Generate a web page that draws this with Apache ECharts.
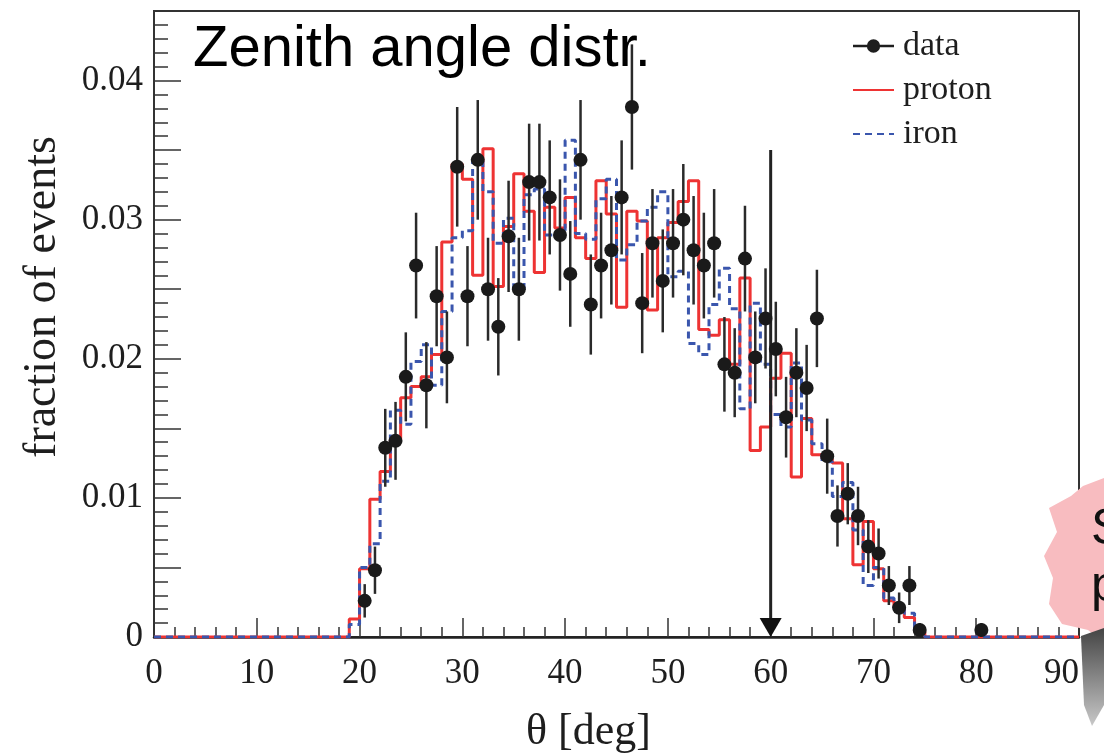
<!DOCTYPE html>
<html>
<head>
<meta charset="utf-8">
<script src="https://cdn.jsdelivr.net/npm/echarts@6/dist/echarts.min.js"></script>
<style>
html,body{margin:0;padding:0;background:#fff;}
#chart{width:1104px;height:755px;}
</style>
</head>
<body>
<div id="chart"></div>
<script>
// ---- data ----
const titleText = 'Zenith angle distr.';
const xName = 'θ [deg]';
const yName = 'fraction of events';
const xMin = 0, xMax = 90, xStep = 10;
const yMin = 0, yMax = 0.045, yStep = 0.005;

// histogram bins are 1 degree wide, first non-empty bin starts at 19 deg
const binStart = 19;
const protonValues = [
  0.0013, 0.0049, 0.0099, 0.0119, 0.0142, 0.0172, 0.0180, 0.0187, 0.0203, 0.0284,
  0.0340, 0.0329, 0.0260, 0.0351, 0.0252, 0.0295, 0.0333, 0.0306, 0.0262, 0.0309,
  0.0294, 0.0316, 0.0287, 0.0272, 0.0328, 0.0304, 0.0237, 0.0306, 0.0299, 0.0235,
  0.0287, 0.0298, 0.0313, 0.0328, 0.0221, 0.0217, 0.0228, 0.0196, 0.0258, 0.0134,
  0.0151, 0.0186, 0.0204, 0.0115, 0.0157, 0.0131, 0.0128, 0.0125, 0.0085, 0.0052,
  0.0083, 0.0049, 0.0026, 0.0021, 0.0014, 0.0004
];
const ironValues = [
  0.0009, 0.0050, 0.0067, 0.0112, 0.0163, 0.0153, 0.0198, 0.0210, 0.0181, 0.0234,
  0.0287, 0.0292, 0.0342, 0.0320, 0.0283, 0.0301, 0.0247, 0.0318, 0.0322, 0.0289,
  0.0289, 0.0357, 0.0290, 0.0286, 0.0315, 0.0329, 0.0271, 0.0282, 0.0299, 0.0309,
  0.0320, 0.0259, 0.0263, 0.0211, 0.0203, 0.0239, 0.0265, 0.0236, 0.0164, 0.0240,
  0.0196, 0.0160, 0.0151, 0.0197, 0.0156, 0.0139, 0.0126, 0.0101, 0.0111, 0.0077,
  0.0037, 0.0050, 0.0028, 0.0021, 0.0017, 0.0004
];

const dataCenters = [
  20.5, 21.5, 22.5, 23.5, 24.5, 25.5, 26.5, 27.5, 28.5, 29.5,
  30.5, 31.5, 32.5, 33.5, 34.5, 35.5, 36.5, 37.5, 38.5, 39.5,
  40.5, 41.5, 42.5, 43.5, 44.5, 45.5, 46.5, 47.5, 48.5, 49.5,
  50.5, 51.5, 52.5, 53.5, 54.5, 55.5, 56.5, 57.5, 58.5, 59.5,
  60.5, 61.5, 62.5, 63.5, 64.5, 65.5, 66.5, 67.5, 68.5, 69.5,
  70.5, 71.5, 72.5, 73.5, 74.5, 80.5
];
const dataValues = [
  0.0026, 0.0048, 0.0136, 0.0141, 0.0187, 0.0267, 0.0181, 0.0245, 0.0201, 0.0338,
  0.0245, 0.0343, 0.0250, 0.0223, 0.0288, 0.0250, 0.0327, 0.0327, 0.0316, 0.0289,
  0.0261, 0.0343, 0.0239, 0.0267, 0.0278, 0.0316, 0.0381, 0.0240, 0.0283, 0.0256,
  0.0283, 0.0300, 0.0278, 0.0267, 0.0283, 0.0196, 0.0190, 0.0272, 0.0201, 0.0229,
  0.0207, 0.0158, 0.0190, 0.0179, 0.0229, 0.0130, 0.0087, 0.0103, 0.0087, 0.0065,
  0.0060, 0.0037, 0.0021, 0.0037, 0.0005, 0.0005
];
const dataErrors = [
  0.0012, 0.0017, 0.0028, 0.0028, 0.0032, 0.0038, 0.0031, 0.0036, 0.0033, 0.0043,
  0.0036, 0.0043, 0.0037, 0.0035, 0.0040, 0.0037, 0.0042, 0.0042, 0.0041, 0.0040,
  0.0038, 0.0043, 0.0036, 0.0038, 0.0039, 0.0041, 0.0045, 0.0036, 0.0039, 0.0037,
  0.0039, 0.0040, 0.0039, 0.0038, 0.0039, 0.0034, 0.0032, 0.0038, 0.0033, 0.0036,
  0.0034, 0.0029, 0.0032, 0.0031, 0.0035, 0.0027, 0.0022, 0.0022, 0.0021, 0.0019,
  0.0018, 0.0014, 0.0011, 0.0014, 0.0005, 0.0005
];

// vertical cut marker (arrow) at 60 deg
const cutAngle = [60];
const cutTop = [0.035];

// ---- build series data from the arrays ----
function histSteps(vals) {
  const pts = [];
  for (let e = xMin; e < xMax; e++) {
    const i = e - binStart;
    const v = (i >= 0 && i < vals.length) ? vals[i] : 0;
    pts.push([e, v]);
  }
  pts.push([xMax, pts[pts.length - 1][1]]);
  return pts;
}
const protonSteps = histSteps(protonValues);
const ironSteps = histSteps(ironValues);
const dataPoints = dataCenters.map((x, i) => [x, dataValues[i]]);
const errorBars = dataCenters.map((x, i) => [x, dataValues[i] - dataErrors[i], dataValues[i] + dataErrors[i]]);
const arrowData = cutAngle.map((x, i) => [x, cutTop[i]]);

const serif = '"Liberation Serif", "DejaVu Serif", serif';
const ink = '#1e1e1e';
const red = '#ee3333';
const blue = '#3a56ad';

const chart = echarts.init(document.getElementById('chart'), null, {renderer: 'canvas'});
chart.setOption({
  animation: false,
  backgroundColor: '#fff',
  grid: {left: 154, right: 25, top: 11, bottom: 118, containLabel: false, outerBoundsMode: 'none',
         show: true, borderColor: '#333', borderWidth: 2, backgroundColor: 'transparent'},
  legend: {
    orient: 'vertical', left: 847, top: 24,
    itemWidth: 41, itemHeight: 14, itemGap: 10,
    textStyle: {fontFamily: serif, fontSize: 34, color: ink, padding: [0, 0, 0, 4]},
    data: [
      {name: 'data', icon: 'path://M0,5.8L40,5.8L40,8.2L0,8.2Z M13.5,7A6.5,6.5 0 1 1 26.5,7A6.5,6.5 0 1 1 13.5,7Z', itemStyle: {color: ink, opacity: 1}},
      {name: 'proton', itemStyle: {opacity: 0}},
      {name: 'iron', itemStyle: {opacity: 0}}
    ]
  },
  xAxis: {
    type: 'value', min: xMin, max: xMax, interval: xStep,
    name: xName, nameLocation: 'middle', nameGap: 73,
    nameTextStyle: {fontFamily: serif, fontSize: 44, color: ink, padding: [0, 56, 0, 0]},
    axisLine: {show: true, onZero: false, lineStyle: {color: '#222', width: 2.5}},
    axisTick: {show: true, inside: true, length: 19, lineStyle: {color: '#333', width: 1.5}},
    minorTick: {show: true, splitNumber: 5, length: 10, lineStyle: {color: '#333', width: 1.5}},
    axisLabel: {fontFamily: serif, fontSize: 35, color: ink, margin: 19, alignMaxLabel: 'right'},
    splitLine: {show: false}
  },
  yAxis: {
    type: 'value', min: yMin, max: yMax, interval: yStep,
    name: yName, nameLocation: 'middle', nameGap: 88, nameRotate: 90,
    nameTextStyle: {fontFamily: serif, fontSize: 46, color: ink, padding: [0, 0, 0, 54]},
    axisLine: {show: true, onZero: false, lineStyle: {color: '#333', width: 2}},
    axisTick: {show: true, inside: true, length: 27, lineStyle: {color: '#333', width: 1.5}},
    minorTick: {show: true, splitNumber: 5, length: 14, lineStyle: {color: '#333', width: 1.5}},
    axisLabel: {
      fontFamily: serif, fontSize: 35, color: ink, margin: 11,
      formatter: function (v) {
        const k = Math.round(v / 0.01 * 1000) / 1000;
        if (Math.abs(k - Math.round(k)) > 1e-6) return '';
        return v === 0 ? '0' : v.toFixed(2);
      }
    },
    splitLine: {show: false}
  },
  series: [
    {
      name: 'iron', type: 'line', step: 'end', data: ironSteps, symbol: 'none', z: 3,
      lineStyle: {color: blue, width: 3, type: [7, 5]}, itemStyle: {color: blue}
    },
    {
      name: 'proton', type: 'line', step: 'end', data: protonSteps, symbol: 'none', z: 2,
      lineStyle: {color: red, width: 3}, itemStyle: {color: red}
    },
    {
      name: 'cut', type: 'custom', z: 4, data: arrowData, silent: true,
      renderItem: function (params, api) {
        const top = api.coord([api.value(0), api.value(1)]);
        const base = api.coord([api.value(0), 0]);
        const hw = 11, hh = 19;
        return {
          type: 'group', children: [
            {type: 'line', shape: {x1: top[0], y1: top[1], x2: base[0], y2: base[1] - hh + 2}, style: {stroke: '#222', lineWidth: 3}},
            {type: 'polygon', shape: {points: [[base[0] - hw, base[1] - hh], [base[0] + hw, base[1] - hh], [base[0], base[1]]]}, style: {fill: '#111'}}
          ]
        };
      }
    },
    {
      name: 'data-err', type: 'custom', z: 5, data: errorBars, silent: true,
      renderItem: function (params, api) {
        const x = api.value(0);
        const p1 = api.coord([x, api.value(1)]);
        const p2 = api.coord([x, api.value(2)]);
        return {type: 'line', shape: {x1: p1[0], y1: p1[1], x2: p2[0], y2: p2[1]}, style: {stroke: '#2a2a2a', lineWidth: 2.5}};
      }
    },
    {
      name: 'data', type: 'scatter', z: 6, data: dataPoints, symbol: 'circle', symbolSize: 14,
      itemStyle: {color: '#1a1a1a', opacity: 1}
    }
  ],
  graphic: [
    {type: 'text', left: 193, top: 21, z: 10,
     style: {text: titleText, font: '58px "Liberation Sans", Arial, sans-serif', fill: '#000'}},
    {type: 'polygon', z: 20, silent: true,
     shape: {points: [[1083,486],[1104,478],[1104,642],[1088,630],[1062,624],[1049,604],[1053,578],[1044,556],[1057,532],[1049,508],[1071,496]]},
     style: {fill: '#f8bcc0'}},
    {type: 'polygon', z: 20, silent: true,
     shape: {points: [[1081,636],[1104,628],[1104,705],[1092,726],[1084,705]]},
     style: {fill: new echarts.graphic.LinearGradient(0, 0, 0, 1, [{offset: 0, color: '#444'}, {offset: 1, color: '#c8c8c8'}])}},
    {type: 'text', z: 21, left: 1091, top: 505, style: {text: 'S', font: '50px "Liberation Sans", sans-serif', fill: '#111'}},
    {type: 'text', z: 21, left: 1091, top: 562, style: {text: 'p', font: '50px "Liberation Sans", sans-serif', fill: '#111'}}
  ]
});
</script>
</body>
</html>
